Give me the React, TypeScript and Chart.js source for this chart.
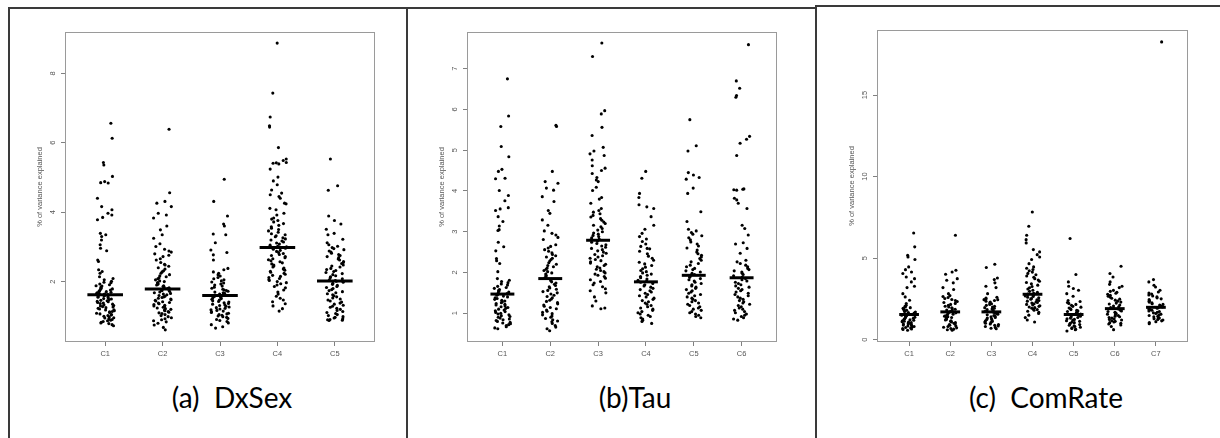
import React, { useEffect, useRef } from "react";
import { Chart, registerables } from "chart.js";
Chart.register(...registerables);

// ---------- (a) DxSex ----------
const dxsexCategories = ["C1", "C2", "C3", "C4", "C5"];
const dxsexTicks = [2, 4, 6, 8];
const dxsexMedians = [1.62, 1.79, 1.6, 2.98, 2.02];
const dxsexC1 = [6.56, 6.13, 5.43, 5.36, 5.03, 4.88, 4.85, 4.84, 4.4, 4.16, 4.07, 3.97, 3.92, 3.85, 3.78, 3.39, 3.35, 3.3, 3.2, 3.06, 2.96, 2.89, 2.62, 2.58, 2.34, 2.29, 2.24, 2.14,
  2.09, 2.05, 2.01, 1.98, 1.97, 1.93, 1.91, 1.88, 1.87, 1.84, 1.81, 1.79, 1.78, 1.76, 1.74, 1.72, 1.71, 1.69, 1.68, 1.66, 1.65, 1.64, 1.63,
  1.61, 1.59, 1.58, 1.56, 1.55, 1.53, 1.51, 1.5, 1.48, 1.46, 1.45, 1.43, 1.42, 1.4, 1.38, 1.37, 1.35, 1.33, 1.31, 1.3, 1.28, 1.27, 1.25, 1.23, 1.21, 1.19, 1.18, 1.16, 1.14, 1.13, 1.11, 1.09, 1.07, 1.05, 1.04, 1.02, 1.0, 0.98, 0.96, 0.95, 0.93, 0.91, 0.89, 0.87, 0.85, 0.83, 0.81, 0.79, 0.76, 0.73];
const dxsexC2 = [6.39, 4.56, 4.31, 4.26, 4.16, 3.97, 3.92, 3.83, 3.6, 3.49, 3.35, 3.25, 3.09, 3.01, 2.93,
  2.88, 2.85, 2.8, 2.76, 2.72, 2.66, 2.62, 2.55, 2.5, 2.48, 2.44, 2.4, 2.36, 2.31, 2.28, 2.24, 2.2,
  2.17, 2.14, 2.11, 2.08, 2.05, 2.02, 2.0, 1.97, 1.95, 1.92, 1.9, 1.88, 1.86, 1.84, 1.82, 1.8,
  1.78, 1.76, 1.74, 1.72, 1.7, 1.68, 1.66, 1.64, 1.62, 1.6, 1.58, 1.56, 1.54, 1.52, 1.5, 1.48, 1.46, 1.44, 1.42, 1.4, 1.38, 1.36, 1.34, 1.32, 1.3, 1.28, 1.26, 1.24, 1.22, 1.2, 1.18, 1.16, 1.14, 1.12, 1.1, 1.08, 1.05, 1.02, 0.99, 0.96, 0.93, 0.9, 0.87, 0.84, 0.8, 0.75, 0.68, 0.61];
const dxsexC3 = [4.95, 4.31, 3.89, 3.66, 3.6, 3.37, 3.35, 3.12, 2.91, 2.84, 2.77, 2.62, 2.38, 2.34,
  2.28, 2.24, 2.2, 2.16, 2.12, 2.08, 2.05, 2.02, 1.99, 1.96, 1.93, 1.9, 1.87, 1.84, 1.81, 1.78, 1.76, 1.74, 1.72, 1.7, 1.68, 1.66, 1.64, 1.62, 1.61,
  1.59, 1.57, 1.55, 1.53, 1.51, 1.49, 1.47, 1.45, 1.43, 1.41, 1.39, 1.37, 1.35, 1.33, 1.31, 1.29, 1.27, 1.25, 1.23, 1.21, 1.19, 1.17, 1.15, 1.13, 1.11, 1.09, 1.07, 1.05, 1.03, 1.01, 0.99, 0.97, 0.94, 0.91, 0.88, 0.85, 0.81, 0.76, 0.7, 0.66];
const dxsexC4 = [8.87, 7.43, 6.74, 6.49, 6.45, 5.86, 5.53, 5.49, 5.43, 5.42, 5.41, 5.39, 5.24, 5.01, 4.9, 4.79, 4.64, 4.55, 4.5, 4.45, 4.4, 4.26, 4.24, 4.11, 4.07, 3.97, 3.92, 3.83, 3.8,
  3.76, 3.72, 3.67, 3.62, 3.58, 3.54, 3.5, 3.46, 3.42, 3.38, 3.35, 3.32, 3.29, 3.26, 3.23, 3.2, 3.17, 3.14, 3.11, 3.08, 3.05, 3.02, 3.0,
  2.96, 2.93, 2.9, 2.87, 2.84, 2.81, 2.78, 2.75, 2.72, 2.69, 2.66, 2.63, 2.6, 2.57, 2.54, 2.51, 2.48, 2.45, 2.42, 2.39, 2.36, 2.33, 2.3, 2.27, 2.24, 2.21, 2.18, 2.15, 2.12, 2.09, 2.06, 2.03, 2.0, 1.97, 1.94, 1.9, 1.86, 1.82, 1.76, 1.7, 1.64, 1.58, 1.52, 1.47, 1.42, 1.36, 1.3, 1.22, 1.15];
const dxsexC5 = [5.53, 4.76, 4.63, 3.89, 3.76, 3.66, 3.51, 3.39, 3.35, 3.22, 3.12,
  3.06, 3.02, 2.98, 2.95, 2.92, 2.88, 2.85, 2.82, 2.78, 2.75, 2.72, 2.69, 2.65, 2.62, 2.58, 2.55, 2.52, 2.48, 2.45, 2.42, 2.38, 2.35, 2.32, 2.29, 2.26, 2.23, 2.2, 2.17, 2.14, 2.11, 2.08, 2.05, 2.03,
  2.01, 1.98, 1.95, 1.92, 1.89, 1.86, 1.83, 1.8, 1.77, 1.74, 1.71, 1.68, 1.65, 1.62, 1.59, 1.56, 1.53, 1.5, 1.47, 1.44, 1.41, 1.38, 1.35, 1.32, 1.29, 1.26, 1.23, 1.2, 1.17, 1.14, 1.11, 1.08, 1.05, 1.02, 0.99, 0.97, 0.95, 0.93, 0.91, 0.9, 0.89, 0.88];

// ---------- (b) Tau ----------
const tauCategories = ["C1", "C2", "C3", "C4", "C5", "C6"];
const tauTicks = [1, 2, 3, 4, 5, 6, 7];
const tauMedians = [1.47, 1.85, 2.79, 1.77, 1.93, 1.87];
const tauC1 = [6.75, 5.84, 5.58, 5.09, 4.84, 4.53, 4.48, 4.31, 4.3, 4.01, 3.89, 3.76, 3.59, 3.56, 3.52, 3.37, 3.25, 3.14, 3.05, 3.03, 2.74, 2.63, 2.53, 2.34, 2.29, 2.22, 2.02, 1.85, 1.81,
  1.78, 1.75, 1.72, 1.69, 1.66, 1.63, 1.61, 1.58, 1.56, 1.54, 1.52, 1.5, 1.48,
  1.46, 1.44, 1.42, 1.4, 1.38, 1.36, 1.34, 1.32, 1.3, 1.28, 1.26, 1.24, 1.22, 1.2, 1.18, 1.16, 1.14, 1.12, 1.1, 1.08, 1.06, 1.04, 1.02, 1.0, 0.98, 0.96, 0.94, 0.92, 0.9, 0.88, 0.86, 0.84, 0.82, 0.8, 0.78, 0.76, 0.74, 0.72, 0.7, 0.67, 0.64, 0.62];
const tauC2 = [5.61, 5.58, 4.48, 4.23, 4.19, 4.07, 4.02, 3.86, 3.74, 3.52, 3.45, 3.29, 3.16, 3.02, 2.96, 2.92, 2.86, 2.81,
  2.68, 2.64, 2.6, 2.56, 2.52, 2.48, 2.44, 2.41, 2.38, 2.35, 2.32, 2.28, 2.24, 2.2, 2.17, 2.14, 2.11, 2.08, 2.05, 2.02, 1.99, 1.96, 1.93, 1.9, 1.87,
  1.83, 1.8, 1.77, 1.74, 1.71, 1.68, 1.65, 1.62, 1.59, 1.56, 1.53, 1.5, 1.47, 1.44, 1.41, 1.38, 1.35, 1.32, 1.29, 1.26, 1.23, 1.2, 1.17, 1.14, 1.11, 1.08, 1.05, 1.02, 0.99, 0.96, 0.93, 0.9, 0.87, 0.84, 0.81, 0.79, 0.75, 0.7, 0.66, 0.62, 0.57];
const tauC3 = [7.63, 7.3, 5.97, 5.89, 5.56, 5.36, 5.07, 4.98, 4.91, 4.87, 4.76, 4.62, 4.56, 4.5, 4.43, 4.33, 4.27, 4.23, 4.09, 4.01, 3.84, 3.8, 3.7, 3.57,
  3.52, 3.48, 3.44, 3.4, 3.36, 3.32, 3.28, 3.24, 3.2, 3.16, 3.12, 3.08, 3.04, 3.0, 2.97, 2.94, 2.91, 2.88, 2.85, 2.82, 2.8,
  2.77, 2.74, 2.71, 2.68, 2.65, 2.62, 2.59, 2.56, 2.53, 2.5, 2.47, 2.44, 2.41, 2.38, 2.35, 2.32, 2.29, 2.26, 2.23, 2.2, 2.17, 2.14, 2.11, 2.08, 2.05, 2.02, 1.99, 1.96, 1.93, 1.9, 1.86, 1.82, 1.78, 1.74, 1.7, 1.65, 1.6, 1.55, 1.5, 1.4, 1.3, 1.18, 1.13, 1.11];
const tauC4 = [4.48, 4.31, 3.94, 3.84, 3.66, 3.61, 3.57, 3.37, 3.16, 3.06, 2.96, 2.59,
  2.88, 2.82, 2.76, 2.7, 2.64, 2.58, 2.52, 2.46, 2.4, 2.35, 2.3, 2.25, 2.21, 2.17, 2.13, 2.09, 2.05, 2.02, 1.99, 1.96, 1.93, 1.9, 1.87, 1.84, 1.81, 1.79,
  1.76, 1.73, 1.7, 1.67, 1.64, 1.61, 1.58, 1.55, 1.52, 1.49, 1.46, 1.43, 1.4, 1.37, 1.34, 1.31, 1.28, 1.25, 1.22, 1.19, 1.16, 1.13, 1.1, 1.07, 1.04, 1.01, 0.98, 0.95, 0.92, 0.89, 0.86, 0.83, 0.8, 0.75];
const tauC5 = [5.75, 5.11, 4.98, 4.45, 4.39, 4.33, 4.29, 4.07, 3.94, 3.49, 3.25, 3.06, 3.02,
  2.98, 2.94, 2.9, 2.85, 2.8, 2.75, 2.7, 2.65, 2.6, 2.55, 2.5, 2.46, 2.42, 2.38, 2.34, 2.3, 2.26, 2.22, 2.18, 2.14, 2.1, 2.07, 2.04, 2.01, 1.98, 1.95,
  1.91, 1.88, 1.85, 1.82, 1.79, 1.76, 1.73, 1.7, 1.67, 1.64, 1.61, 1.58, 1.55, 1.52, 1.49, 1.46, 1.43, 1.4, 1.37, 1.34, 1.31, 1.28, 1.25, 1.22, 1.19, 1.16, 1.13, 1.1, 1.07, 1.04, 1.01, 0.98, 0.95, 0.92, 0.89];
const tauC6 = [7.59, 6.7, 6.52, 6.34, 6.3, 5.34, 5.27, 5.17, 4.87, 4.05, 4.04, 4.03, 4.02, 3.82, 3.78, 3.7, 3.57, 3.16, 3.08, 2.92, 2.73, 2.7, 2.59, 2.47,
  2.3, 2.26, 2.22, 2.18, 2.14, 2.1, 2.07, 2.04, 2.01, 1.98, 1.95, 1.92, 1.89,
  1.85, 1.82, 1.79, 1.76, 1.73, 1.7, 1.67, 1.64, 1.61, 1.58, 1.55, 1.52, 1.49, 1.46, 1.43, 1.4, 1.37, 1.34, 1.31, 1.28, 1.25, 1.22, 1.19, 1.16, 1.13, 1.1, 1.07, 1.04, 1.01, 0.98, 0.95, 0.92, 0.89, 0.86, 0.83];

// ---------- (c) ComRate ----------
const comrateCategories = ["C1", "C2", "C3", "C4", "C5", "C6", "C7"];
const comrateTicks = [0, 5, 10, 15];
const comrateMedians = [1.54, 1.7, 1.7, 2.78, 1.54, 1.9, 1.98];
const comrateC1 = [6.54, 5.69, 5.17, 5.07, 4.91, 4.46, 4.29, 4.15, 4.05, 3.84, 3.74, 3.54, 3.27, 3.19, 2.82, 2.62, 2.41, 2.21,
  2.1, 2.05, 2.0, 1.96, 1.92, 1.88, 1.84, 1.8, 1.76, 1.72, 1.69, 1.66, 1.63, 1.6, 1.57, 1.55,
  1.52, 1.49, 1.46, 1.43, 1.4, 1.37, 1.34, 1.31, 1.28, 1.25, 1.22, 1.19, 1.16, 1.13, 1.1, 1.07, 1.04, 1.01, 0.98, 0.95, 0.92, 0.89, 0.86, 0.83, 0.8, 0.77, 0.74, 0.71, 0.68, 0.65, 0.62, 0.57];
const comrateC2 = [6.4, 4.25, 4.15, 4.01, 3.74, 3.64, 3.48, 3.19, 3.07, 2.82,
  2.7, 2.64, 2.58, 2.52, 2.46, 2.4, 2.34, 2.28, 2.22, 2.16, 2.1, 2.05, 2.0, 1.95, 1.9, 1.86, 1.82, 1.78, 1.74, 1.71,
  1.68, 1.64, 1.6, 1.56, 1.52, 1.48, 1.44, 1.4, 1.36, 1.32, 1.28, 1.24, 1.2, 1.16, 1.12, 1.08, 1.04, 1.0, 0.96, 0.92, 0.88, 0.84, 0.8, 0.76, 0.72, 0.68, 0.64, 0.6, 0.57];
const comrateC3 = [4.62, 4.42, 3.78, 3.68, 3.48, 3.27, 3.19, 2.82, 2.45,
  2.6, 2.55, 2.5, 2.45, 2.4, 2.35, 2.3, 2.25, 2.2, 2.15, 2.1, 2.05, 2.0, 1.96, 1.92, 1.88, 1.84, 1.8, 1.76, 1.72,
  1.68, 1.64, 1.6, 1.56, 1.52, 1.48, 1.44, 1.4, 1.36, 1.32, 1.28, 1.24, 1.2, 1.16, 1.12, 1.08, 1.04, 1.0, 0.96, 0.92, 0.88, 0.84, 0.8, 0.75, 0.7, 0.67];
const comrateC4 = [7.83, 6.95, 6.4, 6.13, 5.93, 5.52, 5.38, 5.21, 5.07, 4.91, 4.66, 4.46,
  4.38, 4.3, 4.22, 4.14, 4.06, 3.98, 3.9, 3.82, 3.74, 3.66, 3.58, 3.5, 3.42, 3.34, 3.26, 3.18, 3.1, 3.03, 2.96, 2.9, 2.84, 2.8,
  2.76, 2.72, 2.68, 2.64, 2.6, 2.56, 2.52, 2.48, 2.44, 2.4, 2.36, 2.32, 2.28, 2.24, 2.2, 2.16, 2.12, 2.08, 2.04, 2.0, 1.96, 1.92, 1.88, 1.84, 1.8, 1.74, 1.68, 1.6, 1.5, 1.35, 1.2, 1.08];
const comrateC5 = [6.2, 3.99, 3.54, 3.27, 3.13, 3.03, 2.82, 2.66,
  2.4, 2.34, 2.28, 2.22, 2.16, 2.1, 2.04, 1.99, 1.94, 1.89, 1.84, 1.8, 1.76, 1.72, 1.68, 1.64, 1.6, 1.57,
  1.52, 1.48, 1.44, 1.4, 1.36, 1.32, 1.28, 1.24, 1.2, 1.16, 1.12, 1.08, 1.04, 1.0, 0.96, 0.92, 0.88, 0.84, 0.8, 0.76, 0.72, 0.68, 0.64, 0.6, 0.53];
const comrateC6 = [4.5, 4.05, 3.84, 3.54, 3.39, 3.27, 3.19,
  3.02, 2.96, 2.9, 2.84, 2.78, 2.72, 2.66, 2.6, 2.54, 2.48, 2.42, 2.36, 2.3, 2.24, 2.18, 2.12, 2.06, 2.01, 1.96, 1.92,
  1.88, 1.84, 1.8, 1.76, 1.72, 1.68, 1.64, 1.6, 1.56, 1.52, 1.48, 1.44, 1.4, 1.36, 1.32, 1.28, 1.24, 1.2, 1.16, 1.12, 1.08, 1.04, 1.0, 0.96, 0.9, 0.8, 0.61];
const comrateC7 = [18.26, 3.68, 3.54, 3.33, 3.23, 3.03,
  2.92, 2.86, 2.8, 2.74, 2.68, 2.62, 2.56, 2.5, 2.45, 2.4, 2.35, 2.3, 2.25, 2.2, 2.16, 2.12, 2.08, 2.04, 2.0,
  1.96, 1.92, 1.88, 1.84, 1.8, 1.76, 1.72, 1.68, 1.64, 1.6, 1.56, 1.52, 1.48, 1.44, 1.4, 1.36, 1.32, 1.28, 1.24, 1.2, 1.15, 1.1, 1.05, 0.98];

const axisTitle = "% of variance explained";

type Spec = {
  cats: string[];
  values: number[][];
  medians: number[];
  yTicks: number[];
  yMin: number;
  yMax: number;
  halfBar: number;
  jitter: number;
  area: [number, number, number, number];
};

const specs: Spec[] = [
  { cats: dxsexCategories, values: [dxsexC1, dxsexC2, dxsexC3, dxsexC4, dxsexC5], medians: dxsexMedians, yTicks: dxsexTicks,
    yMin: 0.26, yMax: 9.19, halfBar: 0.31, jitter: 0.16, area: [65, 32, 375, 342] },
  { cats: tauCategories, values: [tauC1, tauC2, tauC3, tauC4, tauC5, tauC6], medians: tauMedians, yTicks: tauTicks,
    yMin: 0.294, yMax: 7.9, halfBar: 0.25, jitter: 0.17, area: [467, 32, 777, 342] },
  { cats: comrateCategories, values: [comrateC1, comrateC2, comrateC3, comrateC4, comrateC5, comrateC6, comrateC7], medians: comrateMedians, yTicks: comrateTicks,
    yMin: -0.147, yMax: 18.99, halfBar: 0.24, jitter: 0.18, area: [877, 30, 1188, 342] },
];

const PAD_L = 50, PAD_T = 22, PAD_R = 20, PAD_B = 30;
const FONT = "'Liberation Sans', Arial, sans-serif";

// deterministic jitter offset in [-1, 1] for the k-th point of a category (stripchart jitter)
const jitterUnit = (k: number, c: number) => {
  const s = Math.sin(k * 12.9898 + c * 78.233 + 1.7) * 43758.5453;
  return 2 * (s - Math.floor(s)) - 1;
};

const rFramePlugin = {
  id: "rFrame",
  afterDraw(chart: any) {
    const { ctx, chartArea } = chart;
    const { left, top, right, bottom } = chartArea;
    ctx.save();
    ctx.strokeStyle = "#9a9a9a";
    ctx.lineWidth = 1;
    ctx.strokeRect(left + 0.5, top + 0.5, right - left - 1, bottom - top - 1);
    const ys = chart.scales.y;
    ctx.fillStyle = "#555";
    ctx.font = `7.5px ${FONT}`;
    ctx.textAlign = "center";
    ctx.textBaseline = "middle";
    for (const t of ys.ticks) {
      ctx.save();
      ctx.translate(left - 12.5, ys.getPixelForValue(t.value));
      ctx.rotate(-Math.PI / 2);
      ctx.fillText(String(t.value), 0, 0);
      ctx.restore();
    }
    ctx.save();
    ctx.translate(left - 25.5, (top + bottom) / 2);
    ctx.rotate(-Math.PI / 2);
    ctx.fillText(axisTitle, 0, 0);
    ctx.restore();
    ctx.restore();
  },
};

function Panel({ spec }: { spec: Spec }) {
  const ref = useRef<HTMLCanvasElement>(null);
  const [L, T, R, B] = spec.area;
  const w = R - L + PAD_L + PAD_R;
  const h = B - T + PAD_T + PAD_B;
  useEffect(() => {
    const n = spec.cats.length;
    const points: { x: number; y: number }[] = [];
    spec.values.forEach((arr, ci) =>
      arr.forEach((v, k) => {
        points.push({ x: ci + 1 + spec.jitter * jitterUnit(k, ci), y: v });
      })
    );
    const medianSets = spec.medians.map((m, i) => ({
      data: [
        { x: i + 1 - spec.halfBar, y: m },
        { x: i + 1 + spec.halfBar, y: m },
      ],
      showLine: true,
      borderColor: "#000",
      borderWidth: 3,
      borderCapStyle: "butt",
      pointRadius: 0,
      order: 0,
    }));
    const gridOpts = { display: true, drawOnChartArea: false, drawTicks: true, tickLength: 4, color: "#808080", lineWidth: 1 };
    const chart = new Chart(ref.current as HTMLCanvasElement, {
      type: "scatter",
      data: {
        datasets: [
          { data: points, pointRadius: 1.55, pointBackgroundColor: "#000", backgroundColor: "#000", pointBorderWidth: 0, borderWidth: 0, order: 1 } as any,
          ...(medianSets as any[]),
        ],
      },
      options: {
        responsive: false,
        animation: false,
        events: [],
        layout: { padding: { left: 0, top: PAD_T, right: PAD_R, bottom: 0 } },
        plugins: { legend: { display: false }, tooltip: { enabled: false }, title: { display: false } },
        scales: {
          x: {
            type: "linear",
            min: 0.5 - 0.04 * n,
            max: n + 0.5 + 0.04 * n,
            afterBuildTicks: (s: any) => {
              s.ticks = spec.cats.map((_, i) => ({ value: i + 1 }));
            },
            afterFit: (s: any) => {
              s.height = PAD_B;
            },
            grid: gridOpts,
            border: { display: false },
            ticks: {
              autoSkip: false,
              maxRotation: 0,
              minRotation: 0,
              padding: 3,
              color: "#555",
              font: { family: FONT, size: 7.5 },
              callback: (v: any) => spec.cats[Math.round(Number(v)) - 1] ?? "",
            },
          },
          y: {
            type: "linear",
            min: spec.yMin,
            max: spec.yMax,
            afterBuildTicks: (s: any) => {
              s.ticks = spec.yTicks.map((v) => ({ value: v }));
            },
            afterFit: (s: any) => {
              s.width = PAD_L;
            },
            grid: gridOpts,
            border: { display: false },
            ticks: { display: false },
          },
        },
      } as any,
      plugins: [rFramePlugin],
    });
    return () => chart.destroy();
  }, [spec]);
  return (
    <canvas
      ref={ref}
      width={w}
      height={h}
      style={{ position: "absolute", left: L - PAD_L, top: T - PAD_T, width: w, height: h }}
    />
  );
}

const titleStyle: React.CSSProperties = {
  position: "absolute",
  top: 380,
  fontFamily: "Lato, 'Noto Sans', sans-serif",
  fontSize: 28,
  lineHeight: "34px",
  color: "#000",
  whiteSpace: "pre",
  transform: "translateX(-50%)",
};

export default function App() {
  const line = (s: React.CSSProperties) => <div style={{ position: "absolute", background: "#3a3a3a", ...s }} />;
  return (
    <div style={{ position: "absolute", left: 0, top: 0, width: 1220, height: 438, background: "#fff", overflow: "hidden" }}>
      {specs.map((s, i) => (
        <Panel key={i} spec={s} />
      ))}
      {line({ left: 8, top: 7, width: 2, height: 431 })}
      {line({ left: 406, top: 7, width: 2, height: 431 })}
      {line({ left: 815, top: 5, width: 2, height: 433 })}
      {line({ left: 8, top: 7, width: 808, height: 1.5 })}
      {line({ left: 815, top: 5, width: 405, height: 1.5 })}
      <div style={{ ...titleStyle, left: 232 }}>{"(a)  DxSex"}</div>
      <div style={{ ...titleStyle, left: 635 }}>{"(b)Tau"}</div>
      <div style={{ ...titleStyle, left: 1046 }}>{"(c)  ComRate"}</div>
    </div>
  );
}
